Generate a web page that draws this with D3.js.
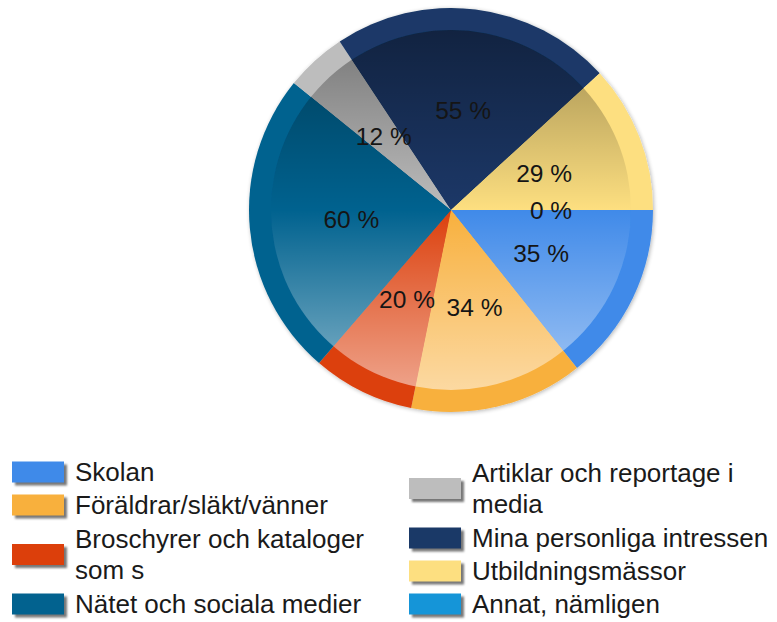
<!DOCTYPE html>
<html><head><meta charset="utf-8">
<script src="https://cdn.jsdelivr.net/npm/d3@7"></script>
<style>html,body{margin:0;padding:0;background:#fff;}svg{display:block;}</style>
</head><body>
<script>
const categories = ["Skolan","Föräldrar/släkt/vänner","Broschyrer och kataloger som s","Nätet och sociala medier","Artiklar och reportage i media","Mina personliga intressen","Utbildningsmässor","Annat, nämligen"];
const values = [35,34,20,60,12,55,29,0];
const colors = ["#3f8ae9","#f8b03d","#dc3f0b","#02628f","#bdbdbd","#1a3967","#fddf80","#1595d8"];
const legendLeft = [0,1,2,3];
const legendRight = [4,5,6,7];

const W = 777, H = 622;
const cx = 451, cy = 210, R = 202, Rin = 180, labelR = 100;

const svg = d3.select("body").append("svg").attr("width", W).attr("height", H);
const defs = svg.append("defs");

const grad = defs.append("linearGradient").attr("id","shade")
  .attr("gradientUnits","userSpaceOnUse")
  .attr("x1",0).attr("y1",-Rin).attr("x2",0).attr("y2",Rin);
grad.append("stop").attr("offset",0).attr("stop-color","#000").attr("stop-opacity",0.38);
grad.append("stop").attr("offset",0.5).attr("stop-color","#000").attr("stop-opacity",0);
grad.append("stop").attr("offset",0.5).attr("stop-color","#fff").attr("stop-opacity",0);
grad.append("stop").attr("offset",1).attr("stop-color","#fff").attr("stop-opacity",0.52);

const sh = defs.append("filter").attr("id","pieShadow").attr("x","-10%").attr("y","-10%").attr("width","120%").attr("height","120%");
sh.append("feGaussianBlur").attr("in","SourceAlpha").attr("stdDeviation",2).attr("result","b");
sh.append("feOffset").attr("in","b").attr("dx",1).attr("dy",1).attr("result","o");
sh.append("feComponentTransfer").attr("in","o").attr("result","o2")
  .append("feFuncA").attr("type","linear").attr("slope",0.3);
const m = sh.append("feMerge");
m.append("feMergeNode").attr("in","o2");
m.append("feMergeNode").attr("in","SourceGraphic");

const sw = defs.append("filter").attr("id","swShadow").attr("x","-20%").attr("y","-40%").attr("width","150%").attr("height","200%");
sw.append("feGaussianBlur").attr("stdDeviation",1.2);

const pie = d3.pie().sort(null).value(d => d)
  .startAngle(Math.PI/2).endAngle(Math.PI/2 + 2*Math.PI);
const arcs = pie(values);

const g = svg.append("g").attr("transform", `translate(${cx},${cy})`);
const pieG = g.append("g").attr("filter","url(#pieShadow)");
const outerArc = d3.arc().innerRadius(0).outerRadius(R);
const innerArc = d3.arc().innerRadius(0).outerRadius(Rin);

pieG.selectAll("path.outer").data(arcs).join("path").attr("class","outer")
  .attr("d", outerArc).attr("fill", (d,i) => colors[i]);
pieG.selectAll("path.inner").data(arcs).join("path").attr("class","inner")
  .attr("d", innerArc).attr("fill", (d,i) => colors[i]);
g.append("circle").attr("r", Rin).attr("fill","url(#shade)");

const labelArc = d3.arc().innerRadius(labelR).outerRadius(labelR);
g.selectAll("text.pct").data(arcs).join("text").attr("class","pct")
  .attr("transform", d => `translate(${labelArc.centroid(d)})`)
  .attr("text-anchor","middle").attr("dy","0.35em")
  .attr("font-family","Liberation Sans, Arial, sans-serif").attr("font-size",24.5)
  .attr("fill","#151515")
  .text(d => d.value + " %");

// Legend
const fontSize = 26, lineH = 33, maxW = 310;
function wrapLines(text) {
  const tmp = svg.append("text").attr("font-family","Liberation Sans, Arial, sans-serif").attr("font-size",fontSize);
  const words = text.split(" ");
  const lines = [];
  let cur = [];
  for (const w of words) {
    const test = cur.concat([w]).join(" ");
    tmp.text(test);
    if (tmp.node().getComputedTextLength() > maxW && cur.length) {
      lines.push(cur.join(" "));
      cur = [w];
    } else cur.push(w);
  }
  if (cur.length) lines.push(cur.join(" "));
  tmp.remove();
  return lines;
}

function drawColumn(idxs, swX, textX, startY) {
  let y = startY;
  const lg = svg.append("g");
  idxs.forEach(i => {
    const lines = wrapLines(categories[i]);
    const h = lines.length * lineH;
    const mid = y + h/2;
    lg.append("rect").attr("x", swX+3).attr("y", mid-10+3).attr("width",52).attr("height",21)
      .attr("fill","#777").attr("filter","url(#swShadow)");
    lg.append("rect").attr("x", swX).attr("y", mid-10).attr("width",52).attr("height",21)
      .attr("fill", colors[i]);
    const t = lg.append("text").attr("font-family","Liberation Sans, Arial, sans-serif")
      .attr("font-size",fontSize).attr("fill","#1a1a1a");
    lines.forEach((ln, k) => {
      t.append("tspan").attr("x", textX)
        .attr("y", mid + (k - (lines.length-1)/2) * (lineH - 2) + 9)
        .text(ln);
    });
    y += h;
  });
}
drawColumn(legendLeft, 12, 75, 455);
drawColumn(legendRight, 409, 472, 455);
</script>
</body></html>
